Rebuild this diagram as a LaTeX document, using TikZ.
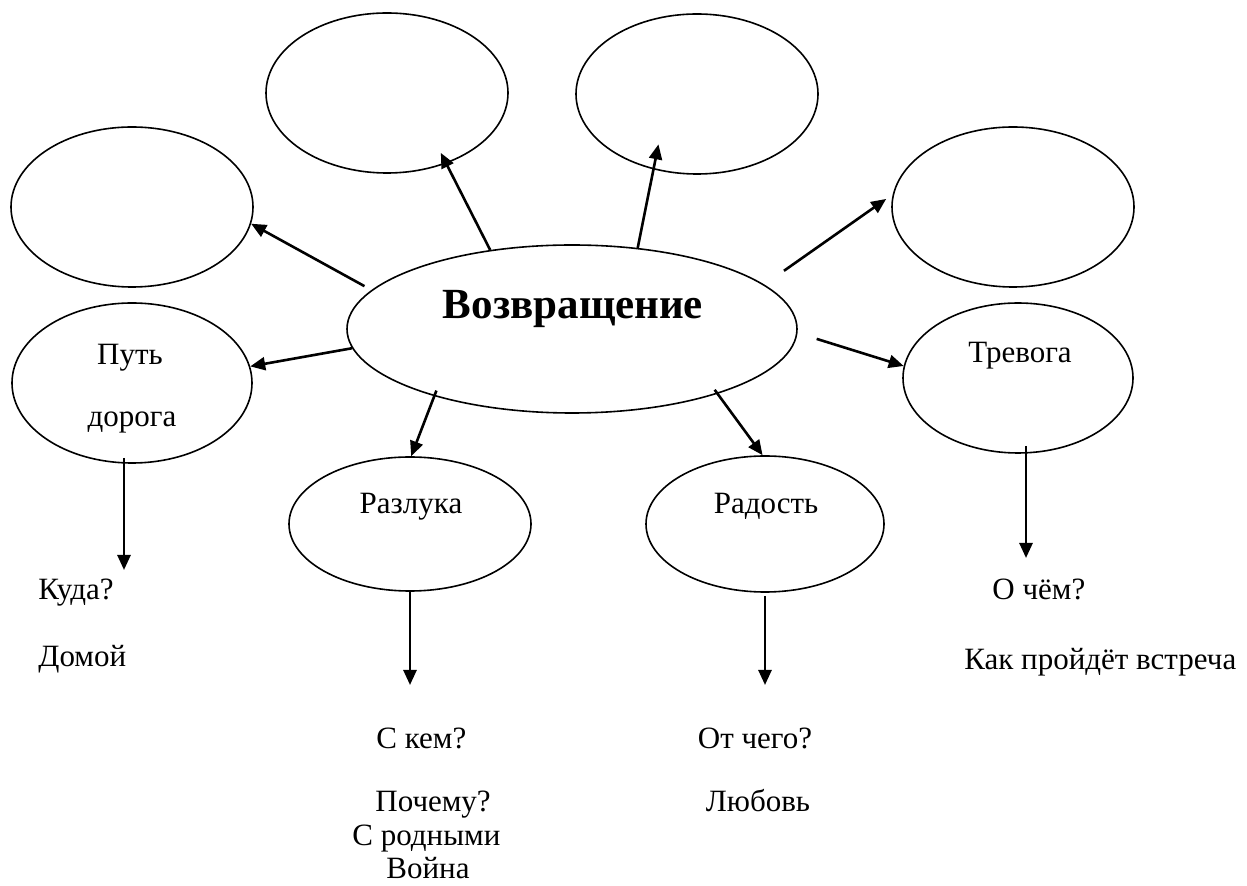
\documentclass[tikz,border=0pt]{standalone}
\usepackage{fontspec}
\setmainfont{Liberation Serif}
\usepackage{tikz}
\usetikzlibrary{arrows.meta}
\usetikzlibrary{shapes.geometric}

\begin{document}
\begin{tikzpicture}[x=0.5pt, y=-0.5pt,
  oval/.style={draw, ellipse, line width=0.8pt, inner sep=0pt},
  arr/.style={line width=1.3pt, -{Triangle[length=7.5pt, width=6.5pt]}},
  txt/.style={inner sep=0pt, anchor=base, font=\fontsize{15.5}{18}\selectfont},
  ttl/.style={inner sep=0pt, anchor=base, font=\fontsize{21.5}{25}\selectfont\bfseries}]
  \useasboundingbox (0,0) rectangle (1247,886);
  \node[oval, minimum width=225pt, minimum height=84pt] (c) at (572,329) {};
  \node[oval, minimum width=121pt, minimum height=80pt] (e1) at (387,93) {};
  \node[oval, minimum width=121pt, minimum height=80pt] (e2) at (697,94) {};
  \node[oval, minimum width=121pt, minimum height=80pt] (e3) at (132,207) {};
  \node[oval, minimum width=121pt, minimum height=80pt] (e4) at (1013,207) {};
  \node[oval, minimum width=120pt, minimum height=80pt] (pd) at (132,383) {};
  \node[oval, minimum width=115pt, minimum height=75pt] (tr) at (1018,378) {};
  \node[oval, minimum width=121pt, minimum height=67pt] (rz) at (410,524) {};
  \node[oval, minimum width=119pt, minimum height=68pt] (rd) at (765,524) {};

  \node[ttl] (ttl) at (573,319) {Возвращение};
  \node[txt] (put) at (130,365) {Путь};
  \node[txt] (dor) at (132,427) {дорога};
  \node[txt] (trv) at (1020,363) {Тревога};
  \node[txt] (raz) at (411,514) {Разлука};
  \node[txt] (rad) at (766,514) {Радость};

  \node[txt, anchor=base west] (kuda) at (38,600) {Куда?};
  \node[txt, anchor=base west] (domoj) at (38,667) {Домой};
  \node[txt, anchor=base west] (skem) at (376,748) {С кем?};
  \node[txt, anchor=base west] (pochemu) at (375,811) {Почему?};
  \node[txt, anchor=base west] (srod) at (352,845) {С родными};
  \node[txt] (vojna) at (428,878) {Война};
  \node[txt] (otchego) at (755,748) {От чего?};
  \node[txt] (lyub) at (758,811) {Любовь};
  \node[txt, anchor=base west] (ochem) at (992,600) {О чём?};
  \node[txt, anchor=base west] (kak) at (964,670) {Как пройдёт встреча};

  \draw[arr, shorten >=-6pt] (c.136) -- (e1.-50);
  \draw[arr, shorten >=-12.8pt] (c.51) -- (e2.-120);
  \draw[arr, shorten <=4pt] (c.169) -- (e3.-8);
  \draw[arr, shorten <=12pt, shorten >=4pt] (c.13.5) -- (e4.174);
  \draw[arr] (c.185) -- (pd.8);
  \draw[arr, shorten <=10pt] (c.-1) -- (tr.174);
  \draw[arr, shorten <=-3pt] (c.206) -- (rz.89);
  \draw[arr, shorten <=-2.5pt] (c.-24) -- (rd.92);

  \coordinate (pdend) at (124,570);
  \coordinate (rzend) at (410,685);
  \coordinate (rdend) at (765,685);
  \coordinate (trend) at (1026,558);
  \draw[arr, shorten <=-3pt] (pdend |- pd.south) -- (pdend);
  \draw[arr] (rzend |- rz.south) -- (rzend);
  \draw[arr, shorten <=1.5pt] (rdend |- rd.south) -- (rdend);
  \draw[arr, shorten <=-4pt] (trend |- tr.south) -- (trend);
\end{tikzpicture}
\end{document}
